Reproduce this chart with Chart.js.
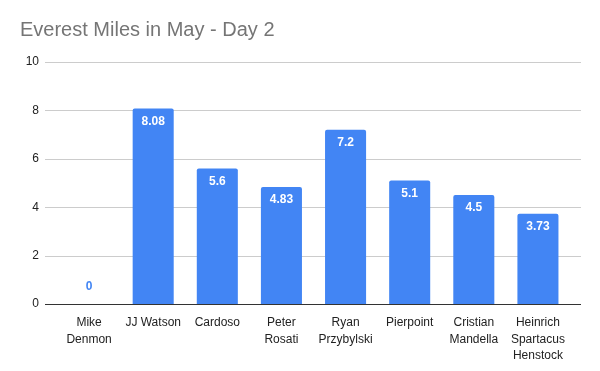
<!DOCTYPE html>
<html><head><meta charset="utf-8">
<script src="https://cdn.jsdelivr.net/npm/chart.js@4"></script>
<style>html,body{margin:0;padding:0;background:#fff}#c{display:block}</style>
</head><body>
<canvas id="c" width="600" height="371"></canvas>
<script>
const categories = [["Mike","Denmon"],"JJ Watson","Cardoso",["Peter","Rosati"],["Ryan","Przybylski"],"Pierpoint",["Cristian","Mandella"],["Heinrich","Spartacus","Henstock"]];
const miles = [0, 8.08, 5.6, 4.83, 7.2, 5.1, 4.5, 3.73];
const valueLabels = ["0","8.08","5.6","4.83","7.2","5.1","4.5","3.73"];
const yTicks = [0, 2, 4, 6, 8, 10];
const FONT = 'Arial, "Liberation Sans", sans-serif';

const gridPlugin = {
  id: 'extGrid',
  beforeDatasetsDraw(chart) {
    const ctx = chart.ctx, ys = chart.scales.y, a = chart.chartArea;
    ctx.save();
    ctx.lineWidth = 1;
    yTicks.forEach(v => {
      const y = Math.round(ys.getPixelForValue(v)) + 0.5;
      ctx.strokeStyle = v === 0 ? '#333333' : '#cccccc';
      ctx.beginPath();
      ctx.moveTo(a.left - 12, y);
      ctx.lineTo(a.right + 11, y);
      ctx.stroke();
    });
    ctx.restore();
  },
  afterDatasetsDraw(chart) {
    const ctx = chart.ctx, ys = chart.scales.y, a = chart.chartArea;
    const y = Math.round(ys.getPixelForValue(0)) + 0.5;
    ctx.save();
    ctx.strokeStyle = '#333333';
    ctx.lineWidth = 1;
    ctx.beginPath();
    ctx.moveTo(a.left - 12, y);
    ctx.lineTo(a.right + 11, y);
    ctx.stroke();
    ctx.restore();
  }
};

const labelPlugin = {
  id: 'valLabels',
  afterDatasetsDraw(chart) {
    const ctx = chart.ctx;
    const meta = chart.getDatasetMeta(0);
    ctx.save();
    ctx.font = 'bold 12px ' + FONT;
    ctx.textAlign = 'center';
    ctx.textBaseline = 'middle';
    meta.data.forEach((bar, i) => {
      if (bar.base - bar.y > 24) {
        ctx.fillStyle = '#ffffff';
        ctx.fillText(valueLabels[i], bar.x, bar.y + 13);
      } else {
        ctx.fillStyle = '#4285F4';
        ctx.fillText(valueLabels[i], bar.x, bar.y - 17);
      }
    });
    ctx.restore();
  }
};

new Chart(document.getElementById('c'), {
  type: 'bar',
  data: {
    labels: categories,
    datasets: [{ data: miles, backgroundColor: '#4285F4', borderWidth: 0, borderSkipped: 'bottom',
      borderRadius: { topLeft: 2, topRight: 2, bottomLeft: 0, bottomRight: 0 },
      categoryPercentage: 1, barPercentage: 0.64 }]
  },
  plugins: [gridPlugin, labelPlugin],
  options: {
    responsive: false,
    animation: false,
    layout: { padding: { left: 20, right: 30, top: 0, bottom: 0 } },
    plugins: {
      legend: { display: false },
      tooltip: { enabled: false },
      title: {
        display: true,
        text: 'Everest Miles in May - Day 2',
        align: 'start',
        color: '#757575',
        font: { family: FONT, size: 20, weight: 'normal', lineHeight: 1.2 },
        padding: { top: 18, bottom: 20 }
      }
    },
    scales: {
      y: {
        min: 0, max: 10,
        afterBuildTicks(axis) { axis.ticks = yTicks.map(v => ({ value: v })); },
        afterFit(axis) { axis.width = 37; },
        ticks: { color: '#222222', font: { family: FONT, size: 12 }, padding: 18 },
        grid: { display: false, drawTicks: false },
        border: { display: false }
      },
      x: {
        afterFit(axis) { axis.height = 67; },
        ticks: { color: '#222222', font: { family: FONT, size: 12, lineHeight: 1.36 }, maxRotation: 0, minRotation: 0, autoSkip: false, padding: 11 },
        grid: { display: false, drawTicks: false },
        border: { display: false }
      }
    }
  }
});
</script>
</body></html>
